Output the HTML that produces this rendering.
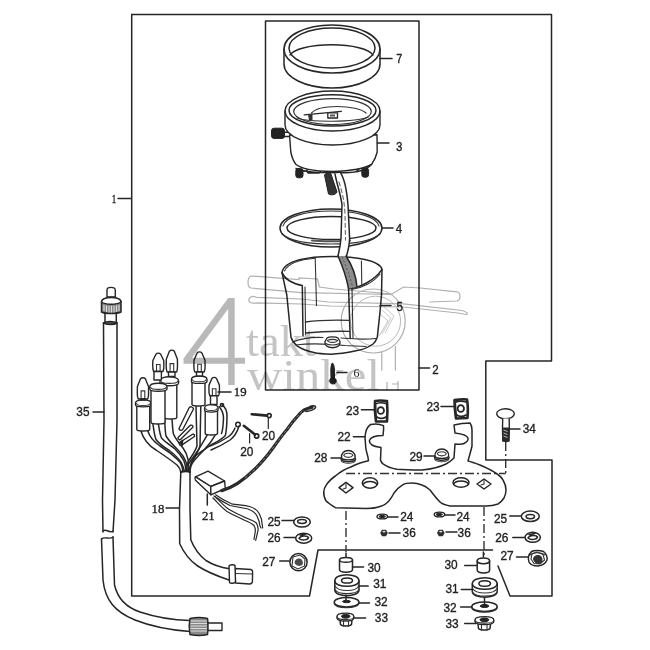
<!DOCTYPE html>
<html><head><meta charset="utf-8">
<style>
html,body{margin:0;padding:0;background:#fff;width:650px;height:650px;overflow:hidden}
svg{display:block}
.l{fill:none;stroke:#262626;stroke-width:1.5;stroke-linejoin:round;stroke-linecap:round}
.f{fill:#fff;stroke:#262626;stroke-width:1.4;stroke-linejoin:round}
.k{fill:#222;stroke:#222;stroke-width:1}
.th{fill:none;stroke:#333;stroke-width:1.1;stroke-linecap:round}
.dd{fill:none;stroke:#333;stroke-width:1.4;stroke-dasharray:9 3 2 3}
.w{fill:none;stroke:#b0b0b0;stroke-width:1.2}
text{font-family:"Liberation Sans",sans-serif;fill:#333}
.lb text{fill:#222;stroke:#222;stroke-width:0.35}
.s{font-family:"Liberation Serif",serif}
</style></head><body>
<svg width="650" height="650" viewBox="0 0 650 650" font-size="13">
<!-- outer boundary -->
<path class="l" d="M131.7,14.5 H551.5 V361 H485.8 V460 H552 V596 H510 L498,566"/>
<path class="l" d="M131.7,14.5 V596 H309.5 L318,550 H492.5"/>
<!-- inner box -->
<rect class="l" x="265.5" y="21" width="153.5" height="369"/>

<!-- ring 7 -->
<g id="p7">
<path class="l" d="M284,49 A48,24 0 0 1 380,49 V64 A48,24 0 0 1 284,64 Z"/>
<path class="l" d="M284,49 A48,24 0 0 0 380,49"/>
<ellipse class="l" cx="332" cy="48" rx="43" ry="20"/>
<path class="l" d="M290,55 A42,12 0 0 1 373,55"/>
</g>
<!-- meter 3 -->
<g id="p3">
<path class="f" d="M283,132.2 H291 V136.5 H283 Z"/>
<rect class="k" x="271.5" y="128.2" width="13" height="10.2" rx="2.5"/>
<path class="l" d="M296,168.5 C300,170.5 308,172 320,172.5 L345,172.8 C358,172.5 366,170.5 371.7,164.2 M306.8,170 L308,173 H319 L321,170.5 M357,170.5 L360,168"/>
<rect class="k" x="295.8" y="168.5" width="7.2" height="9.3" rx="2.5"/>
<rect class="k" x="361.8" y="168" width="6.8" height="9.2" rx="2.5"/>
<path class="f" d="M289.6,135 C290,142 290.5,148 290.8,152 C292,158 294,162 295.8,164.2 C300,168 310,171 332,171.5 C352,171 366,168 371.7,164.2 C374,161 376,157 377.2,152 L377,134.7 Z"/>
<path class="f" d="M285,111 A47.5,20 0 0 1 380,111 V125 A47.5,20 0 0 1 285,125 Z"/>
<path class="l" d="M285,111 A47.5,20 0 0 0 380,111"/>
<ellipse class="l" cx="332.5" cy="110.4" rx="43.5" ry="15.7"/>
<ellipse class="th" style="stroke-width:1.2" cx="332.5" cy="111.6" rx="38.8" ry="13"/>
<path class="th" d="M297,118 C310,122.5 355,122.5 368,117"/>
<path class="th" style="stroke-width:1.2" d="M311.5,113 C316,108 328,106.5 337,106.5 C350,106.5 362,109 366,113"/>
<path class="l" style="stroke-width:1.2" d="M304.2,114.9 L341.4,111.3"/>
<path style="fill:#333" d="M308,114.5 H312.5 V120 H309 Z"/>
<rect class="f" style="stroke-width:1.3" x="327.8" y="112.8" width="9.7" height="5.2"/>
<rect style="fill:#555" x="330" y="114.5" width="5" height="2"/>
<path class="k" style="fill:#333" d="M324.5,175 C326,172.5 330,172.5 331,174 L337,192 C336,195 330,195.5 328.5,194 Z"/>
</g>
<!-- cable from meter -->


<!-- gasket 4 -->
<g id="p4">
<ellipse class="l" cx="331" cy="228" rx="51" ry="19.1"/>
<path class="th" d="M283,226 C285,217 305,211 331,211 C357,211 377,217 379,226"/>
<ellipse class="l" cx="331.5" cy="228" rx="44.5" ry="11.5"/>
<path class="th" d="M282,234 C290,241 310,244 331,244 C352,244 372,241 380,234"/>
<path class="l" style="stroke-width:2.2;stroke:#555" d="M312,240.5 C320,241.5 342,241.5 350,240.5"/>
</g>
<!-- cable over gasket -->
<path style="fill:#fff;stroke:none" d="M335,174 C337,185 341,195 342,205 L341,238 C340.5,246 339,251 338,256 L346.5,256 C348,251 349.5,246 349.6,238 L348,205 C347.5,195 346,187 340.4,172.7 Z"/>
<path class="l" d="M335,174 C337,185 341,195 342,205 L341,238 C340.5,246 339,251 338,256"/>
<path class="l" d="M340.4,172.7 C344,178 346.5,187 348,205 L349.6,238 C349.5,246 348,251 346.5,256"/>
<path class="th" style="stroke-dasharray:4 3;stroke:#666" d="M339,182 C342,192 344.5,200 345,215 L345.5,240"/>
<!-- case 5 -->
<g id="p5">
<path class="l" d="M282,272.6 C284,260 310,256.5 332,256.5 C355,256.5 380,260 382,269.4 L381.5,295 L380,312 L377.3,337.3 C376,341 375,342.5 373,344 C368,347.5 362,350 356,350.8 C348,352.5 340,354 330.8,354.2 C323,354 318,353.5 313.8,352.5 C307,351 301,348.5 297,345.8 C294,343.5 292,340.5 291,337.3 L286.8,295 Z"/>
<path class="th" d="M284.5,271 C288,264 300,259.5 315,258.3"/>
<path class="l" d="M282,272.6 C285,280 295,284 302.3,285.5 L303,336"/>
<path class="th" d="M305,287 L305.6,335"/>
<path class="l" d="M348.6,288.8 C360,288 375,280 382,269.4"/>
<path class="th" d="M351.5,289.5 C362,288 374,282 380,274"/>
<path class="l" d="M348.6,288.8 L350.2,338.5"/>
<path class="th" d="M352,289.5 L353,338"/>
<path class="th" d="M315.2,258.3 L316.5,305.4"/>
<path class="th" style="stroke-width:1.3" d="M305.4,322 C320,320 335,320 349.4,320.4"/>
<path class="th" style="stroke-width:1.3" d="M305.4,333 C320,331.5 335,331 349.4,331.4"/>
<path class="th" style="stroke-width:1.2" d="M293,342 C300,339 312,337 323,337.5 M341,338 C348,338.5 360,340 376,338.5"/>
<path class="th" style="stroke-width:1.2" d="M295.5,345 C310,343 330,344 345,345.5 C352,346 358,346 366,346.5"/>
<path style="fill:#8c8c8c;stroke:none" d="M338,256 C342,265 346,275 348.6,288.8 L357,287 C356,275 352,265 346.5,256 Z"/>
<path style="fill:none;stroke:#444;stroke-width:0.8;stroke-dasharray:2 2" d="M342,257 C346,266 350,276 352.8,288"/>
<path class="l" d="M338,256 C342,265 346,275 348.6,288.8"/>
<path class="l" d="M346,256 C352,265 356,275 357,287"/>
<path class="th" d="M361.4,261 L361.8,285.5"/>
<path class="f" d="M327,338 C329,336.5 336,336.5 338,338 L340,341.5 C340.5,345 338.5,347.5 332.5,347.8 C326.5,347.5 324.5,345 325,341.5 Z"/>
<path class="th" d="M327.5,340.5 C330,339 335,339 337.5,340.5 C337,343 328,343 327.5,340.5 Z M325.5,343.5 C329,345.5 336,345.5 339.5,343.5"/>
</g>
<!-- screw 6 -->
<path class="k" d="M332.5,363 C334,364 334.5,368 334.5,372 L334.5,378 C336.5,379 337,382 335,383.5 C333,384.5 330,384 329.8,381.5 C329.8,379.5 330.5,378.5 331,378 L330.8,370 C331,366 331.5,363.5 332.5,363 Z"/>
<!-- leaders big box labels -->
<path class="l" d="M380,58.5 H392 M377.5,143 H389 M382,228 H393 M380,305.5 H391 M419,368 H429.5 M118,198.5 H131 M337,372.6 H347"/>

<!-- cable 35 -->
<g id="p35">
<path class="f" d="M107,297 V290 C107,286.5 115,286.5 115.3,290 V297 Z"/>
<path class="l" d="M101.5,302 C101.5,296 121,296 121,302 V312 C117,314 105,314 101.5,312 Z" style="fill:#8a8a8a"/>
<path class="f" d="M101.5,302 C101.5,296 121,296 121,302 C117,305 105,305 101.5,302 Z"/>
<path style="fill:none;stroke:#e8e8e8;stroke-width:0.9" d="M104,305 V311 M106.5,305.5 V312 M109,306 V312.5 M111.5,306 V312.5 M114,306 V312.5 M116.5,305.5 V312 M119,305 V311"/>
<path class="l" d="M105,312.5 V322.5 M116.3,312.5 V322.5"/>
<path class="l" d="M103.3,323 C106,321 114,321 117.1,323 C114,325 106,325 103.3,323 Z" style="fill:#555"/>
<path class="l" d="M103.5,323 L104,420 L102.5,500 L103,532"/>
<path class="l" d="M117,323 L117,420 L115,500 L113,532"/>
<path class="l" d="M103,531 C106,528 110,534 113,531"/>
<path class="l" d="M101.5,539 C104,536 110,540 113,537"/>
<path class="l" d="M101.5,539 L103,580 C105,600 115,612 135,620 C150,626 170,630 190,631.5"/>
<path class="l" d="M113,537 L114.5,585 C118,600 128,608 140,612 C155,617 170,620 190,620.5"/>
<path class="l" style="fill:#8a8a8a" d="M190,618.5 C195,617.5 203,617.5 207.5,618.5 C208.5,623 208.5,630 207.5,634.5 C203,635.5 195,635.5 190,634.5 C189,630 189,623 190,618.5 Z"/>
<path style="fill:none;stroke:#e6e6e6;stroke-width:0.9" d="M190.5,621 H207 M190.5,623.5 H207 M190.5,626 H207 M190.5,628.5 H207 M190.5,631 H207"/>
<path class="f" d="M208,623 H222 V630.5 H208 Z"/>
<path class="l" d="M93,412 H104"/>
</g>

<!-- harness 18 -->
<g id="p18">
<path class="l" d="M180.8,472 L179.5,509 L179.7,543.8 C184,553 190,561 197.7,566 C207,572 217,576 229,580"/>
<path class="l" d="M190,472 L190,509 L190.8,539.7 C194,548 199,555 206,560.5 C213,565 221,567.5 229.5,568.8"/>
<path class="f" d="M235,568.5 L251,569.5 C252.5,570 252.7,571 252.6,572 L252.4,582 C252,583.5 251,584 249.5,584 L235.5,583 Z"/>
<path class="th" d="M235.5,573.5 L252.5,574"/>
<path class="f" d="M229,566 C230,564.5 234,564.3 235,565.5 L235.5,582 C234.5,583.5 230.5,583.7 229.5,582.5 Z"/>
<path class="l" style="stroke-width:2.2" d="M180.8,472 C184,471 188,471 190,472"/>
<g style="stroke-width:1.2">
<path class="l" d="M140.8,430.8 C144,441 149,446 156,450 C165,456 172,461 177,465 C179,467 180.5,469 180.8,472"/>
<path class="l" d="M147.7,430.8 C150,438 154,442 160,446 C168,451 174,456 178,460 C181,463 182.5,467 182.8,471"/>
<path class="l" d="M153,424.6 C154,431 154.5,436 156,439.5 C159,444 164,447 170,451 C175,455 179,459 181.5,463 C183,466 184,469 184.2,471"/>
<path class="l" d="M158.5,424.6 C159.5,431 160,435 161.5,438 C165,442 170,445 175,449 C179,453 182,457 184,461 C185.5,465 185.8,468 185.8,471"/>
<path class="l" d="M164.6,418.5 C165,425 165,431 166,436 C169,441 174,446 178.5,450.5 C182,454 184.5,458 186,462 C187,466 187.2,469 187.2,471"/>
<path class="l" d="M172,418.5 C172.5,425 172.5,430 173.5,434 C176,440 180,444 183,448 C186,452 187.5,456 188.2,460 L188.5,471"/>
<path class="l" d="M196,406 L197,446 C195,452 191,457 188.5,461 C187,464 186.5,467 186.5,471"/>
<path class="l" d="M200.8,406 L200,446 C198,452 194,458 191.5,462 C190,465 189.5,468 189.5,471"/>
<path class="l" d="M207,435.4 C204,441 201,445 199,449 C195,455 191,460 188.5,464"/>
<path class="l" d="M215,435.4 C212,441 208,446 204,450 C198,456 193,461 190.5,466"/>
<path class="l" d="M222,404.6 C225,407 227,411 227,415.4 C227,422 226.5,430 225.4,435.4 C221,440 216,442 211.5,444.6 C205,449 200,452 196,455.4 C193,459 191,464 190,471"/>
<path class="l" d="M219,406.5 C222,410 223.5,414 223.5,418 C223.3,424 222.8,430 221.5,433.5"/>
<circle class="l" cx="222" cy="405" r="1.6"/>
<path class="l" d="M210,446 C216,444 222,441 228,437 C231,435 233,433 235,428 M211,450 C218,447 224,444 230,440 C234,437 237,433 239,426"/>
<circle class="l" cx="238" cy="424.5" r="2.3"/>
<path class="f" d="M189,408 C190,406 193,406.5 193.5,409 L183,429 C182,431 179,430.5 179,428.5 Z"/>
<path class="f" d="M189.5,426 C190.5,424.5 193,425 193,427 L181,439 C180,440.5 177.5,439.5 178,437.5 Z"/>
<path class="f" d="M191.5,435 C192.5,433.5 195,434 194.5,436.5 L182,444.8 C180.5,446 178.5,444.5 179.5,442.5 Z"/>
<path class="k" d="M180,442 L183,440 L182,446 Z"/>
</g>
</g>
<!-- bulbs 19 -->
<g id="p19">
<path class="f" d="M136.8,405.5 V429.5 C136.8,431.5 149.7,431.5 149.7,429.5 V405.5 Z"/><path class="f" d="M135.5,403.1 C135.5,398.8 151,398.8 151,403.1 L151,405.1 C151,407.5 135.5,407.5 135.5,405.1 Z"/><path class="th" d="M136.5,403.6 C137.5,406.1 149,406.1 150,403.6"/><path class="f" d="M138.2,399 C136.8,395.8 137.4,392.6 137.4,386.6 L140.5,378.8 C141.8,377.3 144.1,377.3 145.4,378.8 L148.5,386.6 C148.5,392.6 149.1,395.8 147.7,399 Z"/><path class="th" d="M141.1,399 V390.9 H144.8 V399"/><path class="f" d="M140.5,399 H145.5 V400 H140.5 Z"/>
<path class="f" d="M163.8,384.6 V417.5 C163.8,419.5 176.8,419.5 176.8,417.5 V384.6 Z"/><path class="f" d="M160,381.0 C160,375.4 178.6,375.4 178.6,381.0 L178.6,383.0 C178.6,386.6 160,386.6 160,383.0 Z"/><path class="th" d="M161,381.5 C162,384.0 176.6,384.0 177.6,381.5"/><path class="f" d="M167.1,372 C165.7,368.7 166.3,365.4 166.3,359.2 L169.4,351.2 C170.7,349.7 173.0,349.7 174.3,351.2 L177.4,359.2 C177.4,365.4 178.0,368.7 176.6,372 Z"/><path class="th" d="M170.1,372 V363.6 H173.7 V372"/><path class="f" d="M168.5,372 H175 V376.5 H168.5 Z"/>
<path class="f" d="M151,390 V422.5 C151,424.5 165,424.5 165,422.5 V390 Z"/><path class="f" d="M149.7,387.0 C149.7,382 167,382 167,387.0 L167,389.0 C167,392 149.7,392 149.7,389.0 Z"/><path class="th" d="M150.7,387.5 C151.7,390.0 165,390.0 166,387.5"/><path class="f" d="M153.6,371.5 C152.2,368.7 152.8,365.9 152.8,360.8 L155.9,354.2 C157.2,352.7 159.4,352.7 160.7,354.2 L163.8,360.8 C163.8,365.9 164.4,368.7 163.0,371.5 Z"/><path class="th" d="M156.5,371.5 V364.5 H160.1 V371.5"/><path class="f" d="M154,371.5 H161.4 V380 H154 Z"/>
<path class="f" d="M192,382 V404.5 C192,406.5 205,406.5 205,404.5 V382 Z"/><path class="f" d="M191.5,379.4 C191.5,374.8 207,374.8 207,379.4 L207,381.4 C207,384 191.5,384 191.5,381.4 Z"/><path class="th" d="M192.5,379.9 C193.5,382.4 205,382.4 206,379.9"/><path class="f" d="M194.8,372 C193.4,369.0 194.0,365.9 194.0,360.3 L197.1,353.0 C198.4,351.5 200.6,351.5 201.9,353.0 L205.0,360.3 C205.0,365.9 205.6,369.0 204.2,372 Z"/><path class="th" d="M197.7,372 V364.3 H201.3 V372"/><path class="f" d="M196.5,372 H202.5 V376 H196.5 Z"/>
<path class="f" d="M205.2,410.8 V433.5 C205.2,435.5 217.5,435.5 217.5,433.5 V410.8 Z"/><path class="f" d="M204.6,408.1 C204.6,403.4 218,403.4 218,408.1 L218,410.1 C218,412.8 204.6,412.8 204.6,410.1 Z"/><path class="th" d="M205.6,408.6 C206.6,411.1 216,411.1 217,408.6"/><path class="f" d="M209.8,395.8 C208.4,393.0 209.0,390.2 209.0,385.1 L211.9,378.5 C213.2,377.0 215.2,377.0 216.5,378.5 L219.4,385.1 C219.4,390.2 220.0,393.0 218.6,395.8 Z"/><path class="th" d="M212.4,395.8 V388.8 H216.0 V395.8"/><path class="f" d="M210.5,395.8 H217 V404.5 H210.5 Z"/>
</g>
<path class="l" d="M218,392 H231"/>
<!-- screws 20 -->
<path class="l" style="stroke-width:2.6" d="M251.7,414.2 L267,415.6 M243.8,425.8 L255,434.5"/>
<circle class="l" style="stroke-width:1.6" cx="269.2" cy="415.6" r="2"/>
<circle class="l" style="stroke-width:1.8" cx="256.6" cy="436" r="2.1"/>
<path class="l" style="stroke-width:1.2" d="M268.3,418 V428.5 M249.6,433.6 V443"/>
<!-- connector 21 + wires -->
<path class="f" d="M195.5,476.8 L208,471.2 L224.6,481 L210.8,486.5 Z"/>
<path class="f" d="M195.5,476.8 C194.5,478 195,479.5 195.5,480.2 L210.8,494.8 L210.8,486.5 Z"/>
<path class="f" d="M210.8,486.5 L224.6,481 L225.3,488.5 L210.8,494.8 Z"/>
<path class="l" style="stroke-width:3.2;stroke:#2a2a2a" d="M221.8,490.6 C232,488 245,479 255,469 C262,462 268,455 272.2,449 C278,441 283,434 287,429.5 C291,424 294,420 296.8,417.2 C299,414 301,412 304,410 C307,408.5 310,407.5 312,407.3"/>
<path style="fill:none;stroke:#999;stroke-width:0.8;stroke-dasharray:3 2" d="M245,478 C250,474 252,472 255,469 C262,462 268,455 272.2,449 C278,441 283,434 287,429.5 C291,424 294,420 296.8,417.2 C299,414 301,412 304,410"/>
<path class="l" style="stroke-width:1.6" d="M310,406.5 C312,405.5 316,405 315.5,407.5 C314.5,409.5 310,411 306,411.5"/>
<path class="l" style="stroke-width:1.2" d="M215.6,494.8 C220,498 225,501 231.5,503.8 C238,505 244,505 249.5,506.5 C254,508 257.5,510 259.2,513.4 C261,517 262,520 262,523 L262.7,528"/>
<path class="l" style="stroke-width:1.2" d="M214,496 C219,499.5 224,502.5 230,505.5 C236,507 242,507.5 248,509 C252,510.5 255.5,513 257,516 C258.5,519 259.5,522 260,526 L261,528"/>
<path class="l" style="stroke-width:1.2" d="M215,496.8 C220,501 224,506 228.8,509.3 C234,512.5 240,515 245.4,517.6 C250,519.5 254,521 256.4,523 C258,526 258.5,529 257.8,531.4 L255.7,540.4"/>
<path class="l" style="stroke-width:1.2" d="M213,498 C218,503 222,508 227,511.5 C233,515 239,517.5 244,520 C249,522 252,523.5 254,525.5 C255.5,528 255.5,531 255,533 L254,539.5"/>
<path class="l" d="M207.3,494 V505"/>
<path class="l" d="M166,508 H178.8"/>

<!-- bracket plate + 22 -->
<g id="p22">
<path class="l" d="M368.5,460.8 C368,455 366,452 365.7,447 L365,437 C365.5,431 366.5,427 370.6,424.5 C375,423.5 380,424 383.5,425.7 C384,429 383.5,432 383,435.5 C378,435.5 371,436.5 369.4,440.5 C369,445 374,446.6 381,447.5 L380.5,460 C381,462 382,463 383,463.8 C386,466 390,468 397,469.2 C405,470 415,470 422,470 C432,469 440,467 446,464 C450,462 452,460 454,458 L455,444 C460,444.5 463,444 464,443.5 C467,442 468.5,440 468,438 C467,435.5 463,434 455,433 L454,425 C458,424 464,423 470,423 C471.5,425 472,428 472,430 L472,446 C471,451 469.5,455 468,461 C472,462 476,463.5 480,465 C487,468 491,470 494,472 C499,475 502,478 503,480 C505.5,484 506,487 506,490 C506,494 505,496 504,498 C502,501 500,503 498,504 C494,505.5 490,506 486,506 L450,506 C445,505 442,504 440,502 C436,498 433,494 430,490 C427,487 425,486 422,485 C418,483.5 415,483 412.3,483 C406,483 404,484 403,484.6 C399,487 396,490 394,493 C392,497 390.5,499 389,500.8 C386,504 384,505.5 381.5,506 C378,507.5 372,508.5 366,508.5 L335.4,507.7 C331,505 328,503 326,500.8 C324,497 323.5,494 323.8,491.5 C324,489 325,487 326,485.4 C329,481 332,478 335.4,476 C340,472 345,469 350.8,467 C357,464 362,462 368.5,460.8 Z"/>
<path class="dd" d="M346,473.5 H505.7 M505.7,442 V473.5"/>
<path class="dd" d="M346,511 V552 M484,507 V556"/>
<ellipse class="l" cx="370" cy="483" rx="7.7" ry="5.2"/>
<path class="l" d="M363,484.5 C366,480.5 374,480.5 377,484.5"/>
<path class="l" d="M346,482.3 L353,487.7 L346,493 L339,487.7 Z"/>
<path class="th" d="M346,484 V488 L343,489"/>
<ellipse class="l" cx="461" cy="482.5" rx="8" ry="4.7"/>
<path class="l" d="M453.5,484 C456,480 466,480 468.5,484"/>
<path class="l" d="M484,479 L491,484 L484,489 L477,484 Z"/>
<path class="th" d="M484,480.5 V484 L481,485"/>
</g>
<!-- nuts 23 -->
<path class="l" style="stroke-width:2.6" d="M375,401 C378,400.5 383,400.5 387,401 C387.5,407 387.5,415 387,421.5 L376,421.5 C375,415 374.5,408 375,401 Z"/>
<ellipse class="l" style="stroke-width:1.8" cx="380.8" cy="410.5" rx="3.2" ry="3.4"/>
<path class="l" style="stroke-width:1.8" d="M375.5,404 C378,402.5 383,402.5 386,403.5 M376,416 C378,419 383,419 386,417 M375.5,406 L375.8,418"/>
<path class="l" style="stroke-width:2.6" d="M454.5,400 C458,399.5 463,399 467,399.5 C468,405 468,412 467.5,418 L456,418.5 C455,412 454.5,406 454.5,400 Z"/>
<ellipse class="l" style="stroke-width:1.8" cx="460.8" cy="408.5" rx="3.2" ry="3.4"/>
<path class="l" style="stroke-width:1.8" d="M455,402.5 C458,401 463,401 466,402 M456,414 C458,417 463,417 466,415 M455.3,404 L455.8,416"/>
<!-- nuts 28 29 -->
<path class="l" d="M341.0,459.0 C340.8,462.5 355.8,462.5 355.6,459.0"/>
<path class="th" d="M341.3,461.0 C343.3,464.0 353.3,464.0 355.3,461.0"/>
<path class="f" d="M341.5,458.0 C340.8,453.5 344.3,450.5 348.3,450.5 C352.3,450.5 355.8,453.5 355.1,458.0 C353.3,460.5 343.3,460.5 341.5,458.0 Z"/>
<path class="th" d="M343.8,455.5 C344.3,452.5 352.3,452.5 352.8,455.5 C351.3,458.0 345.3,458.0 343.8,455.5 Z"/>
<path class="l" d="M434.5,457.5 C434.3,461 449.3,461 449.1,457.5"/>
<path class="th" d="M434.8,459.5 C436.8,462.5 446.8,462.5 448.8,459.5"/>
<path class="f" d="M435.0,456.5 C434.3,452 437.8,449 441.8,449 C445.8,449 449.3,452 448.6,456.5 C446.8,459 436.8,459 435.0,456.5 Z"/>
<path class="th" d="M437.3,454 C437.8,451 445.8,451 446.3,454 C444.8,456.5 438.8,456.5 437.3,454 Z"/>
<!-- bolt 34 -->
<ellipse class="f" cx="505.5" cy="413.8" rx="8.8" ry="5"/>
<path class="f" d="M502.7,418.5 L502.5,428 L502.8,441 H509 L509.3,428 L509.2,418.5"/>
<path style="fill:#2a2a2a" d="M502,427.5 H509.5 L509.2,441 C508,442.5 504,442.5 502.7,441 Z"/>
<path style="fill:none;stroke:#ddd;stroke-width:0.8" d="M503.5,430 L507.5,431.5 M503.5,433 L507.5,434.5 M503.5,436 L507.5,437.5"/>
<!-- washers 24, nuts 36 -->
<ellipse class="f" cx="382.3" cy="516.5" rx="5.3" ry="2.4"/>
<path class="k" d="M379,516.5 C380,515 384,515 385.5,516.5 C384,518 380,518 379,516.5 Z"/>
<ellipse class="f" cx="439.5" cy="514.5" rx="5.3" ry="2.4"/>
<path class="k" d="M436,514.5 C437,513 441,513 442.5,514.5 C441,516 437,516 436,514.5 Z"/>
<path style="fill:#2e2e2e" d="M380.2,533 L382,529.8 H386 L387.8,533 L386,536.3 H382 Z"/>
<ellipse style="fill:#ddd" cx="384" cy="531.6" rx="1.6" ry="0.9"/>
<path style="fill:#2e2e2e" d="M437,533 L438.8,529.8 H442.8 L444.6,533 L442.8,536.3 H438.8 Z"/>
<ellipse style="fill:#ddd" cx="440.8" cy="531.6" rx="1.6" ry="0.9"/>
<!-- 25 26 27 left -->
<ellipse class="l" cx="302" cy="522" rx="8.3" ry="5.1"/>
<ellipse class="l" cx="302" cy="521.5" rx="4.3" ry="1.9"/>
<ellipse class="l" cx="303.7" cy="538.2" rx="8" ry="5"/>
<path class="l" d="M299,538.5 C300,535.5 307,535 308.5,537.5 C308,540 302,541 299,538.5 Z M300,535 L306,534"/>
<circle class="l" cx="298.5" cy="562.2" r="8.6"/>
<path class="th" d="M293,557 L300,555 L305,559 L304.5,566 L298,569 L292,566 Z"/>
<path style="fill:#4a4a4a" d="M294.5,563 C294.5,560 296.5,558.5 299,558.5 C302,558.5 303,561 302.8,564 C301.5,566.5 296.5,566.8 294.5,563 Z"/>
<!-- 25 26 27 right -->
<ellipse class="l" cx="530.3" cy="516.3" rx="9" ry="5.2"/>
<ellipse class="l" cx="530.3" cy="516.6" rx="4.2" ry="2.1"/>
<ellipse class="l" cx="532.7" cy="537.3" rx="7.7" ry="5"/>
<path class="l" d="M528,538 C529,535 536,534.5 537.5,537 C537,539.5 531,540.5 528,538 Z M529,534.5 L535,533.5"/>
<path class="l" d="M531.5,551.5 C534,550 540,550 543.5,551.5 C546.5,554 547.5,557 547,560 C545.5,563.5 543,565.5 538,566 C534,566 530.5,565 529,562 C528,559 528.5,554.5 531.5,551.5 Z"/>
<path class="th" d="M532,554 L537,552 L543,554.5 L544.5,560 L540,564 L534,563.5 L531,559 Z"/>
<path style="fill:#333" d="M533,559.5 C533,556 536,554.5 539,555 C542.5,556 543,559.5 542,562.5 C539.5,565 535,564.5 533,559.5 Z"/>
<path class="th" d="M530,555 C533,552 541,552 545,555"/>
<!-- 30 31 32 33 left -->
<path class="l" d="M346,553 V557"/>
<path class="l" d="M339.5,560 C339.5,556.5 352.5,556.5 352.5,560 L352.5,569.5 C352.5,573 339.5,573 339.5,569.5 Z"/>
<path class="l" d="M339.5,560 C340,563 352,563 352.5,560"/>
<path class="l" d="M334.8,581 C334.8,572.5 359,572.5 359,581 L359,590 C359,597.5 334.8,597.5 334.8,590 Z"/>
<path class="l" d="M334.8,581 C335,588 358.8,588 359,581"/>
<path class="th" d="M335,586 C338,592 356,592 359,586 M335,589.5 C338,595 356,595 359,589.5"/>
<ellipse class="l" cx="347" cy="580.5" rx="5.5" ry="2.6"/>
<path class="l" d="M346,595 V601"/>
<path class="l" d="M334.2,602.3 C334.2,596 359,596 359,602.3 C359,608.5 334.2,608.5 334.2,602.3 Z"/>
<path class="th" d="M334.2,603.5 C336,609 357,609 359,603.5"/>
<path class="k" d="M342.5,601.5 C343,600 350,600 350.5,601.5 C350,603 343,603 342.5,601.5 Z"/>
<path class="l" d="M340,620 L340.5,624.5 C342,626.5 350,626.5 351.5,624.5 L352,620"/>
<path class="th" d="M343.5,621 V626 M348.5,621 V626"/>
<path class="f" d="M337,616.5 C337,612 353.8,612 353.8,616.5 L353.8,618 C353.8,622 337,622 337,618 Z"/>
<path class="th" d="M337,617 C338,620.5 353,620.5 353.8,617"/>
<path class="k" d="M341.5,616.3 C341.5,613.8 350,613.8 350,616.3 C350,618.8 341.5,618.8 341.5,616.3 Z"/>
<!-- 30 31 32 33 right -->
<path class="l" d="M483.4,552 V557"/>
<path class="l" d="M477.2,561 C477.2,557 489.6,557 489.6,561 L489.6,570 C489.6,574 477.2,574 477.2,570 Z"/>
<path class="l" d="M477.2,561 C478,564.5 489,564.5 489.6,561"/>
<path class="l" d="M472.3,584 C472.3,575.5 497.2,575.5 497.2,584 L497.2,591.5 C497.2,599 472.3,599 472.3,591.5 Z"/>
<path class="l" d="M472.3,584 C473,591 496.5,591 497.2,584"/>
<path class="th" d="M472.5,588.5 C476,594.5 494,594.5 497,588.5 M472.5,592 C476,597.5 494,597.5 497,592"/>
<ellipse class="l" cx="484.7" cy="583.5" rx="5.8" ry="2.8"/>
<path class="l" d="M484.5,598 V605"/>
<path class="l" d="M471.7,606.8 C471.7,600.5 497.2,600.5 497.2,606.8 C497.2,613 471.7,613 471.7,606.8 Z"/>
<path class="th" d="M471.7,608 C474,613.5 495,613.5 497.2,608"/>
<path class="k" d="M480,606 C481,604 488,604 489,606 C488,608 481,608 480,606 Z"/>
<path class="l" d="M478,624 L478.5,628.5 C480,630.5 488.5,630.5 490,628.5 L490.5,624"/>
<path class="th" d="M481.5,625 V630 M487,625 V630"/>
<path class="f" d="M475,620 C475,615.5 493.8,615.5 493.8,620 L493.8,621.5 C493.8,625.5 475,625.5 475,621.5 Z"/>
<path class="th" d="M475,620.5 C476,624 493,624 493.8,620.5"/>
<path class="k" d="M480,619.8 C480,617.3 488.8,617.3 488.8,619.8 C488.8,622.3 480,622.3 480,619.8 Z"/>
<!-- leaders -->
<path class="l" d="M361.4,409.7 H374 M353.4,436.8 H365 M331,458 H341 M424,456 H435 M441,406.5 H454 M509.5,429 H520 M388,517 H398 M445,515 H455 M389,533 H400 M446,532 H457 M282,520.4 H294 M284,537.6 H295 M279.7,561 H289 M352.5,567 H363.6 M358.4,586 H368.2 M359,603 H369.5 M353.8,618 H365.6 M509.7,516 H521.4 M512.8,537.5 H525 M516.5,557 H528 M464.7,565.5 H477 M461.3,589.5 H472.3 M460.6,607 H471.7 M464.7,623.6 H475.8"/>
<g class="lb">
<text x="399.2" y="63.3" text-anchor="middle" font-size="12.8" textLength="6.0" lengthAdjust="spacingAndGlyphs">7</text>
<text x="399.2" y="151.3" text-anchor="middle" font-size="12.8" textLength="6.4" lengthAdjust="spacingAndGlyphs">3</text>
<text x="398.9" y="233.1" text-anchor="middle" font-size="12.8" textLength="6.4" lengthAdjust="spacingAndGlyphs">4</text>
<text x="399.8" y="310.6" text-anchor="middle" font-size="12.8" textLength="6.4" lengthAdjust="spacingAndGlyphs">5</text>
<text x="435.5" y="374.3" text-anchor="middle" font-size="12.8" textLength="6.4" lengthAdjust="spacingAndGlyphs">2</text>
<text x="114.0" y="202.9" text-anchor="middle" font-size="13.0" textLength="4.5" lengthAdjust="spacingAndGlyphs" class="s">1</text>
<text x="356.4" y="377.1" text-anchor="middle" font-size="12.0" textLength="6.0" lengthAdjust="spacingAndGlyphs" class="s" style="stroke-width:0">6</text>
<text x="82.9" y="415.9" text-anchor="middle" font-size="12.8" textLength="13.2" lengthAdjust="spacingAndGlyphs">35</text>
<text x="240.2" y="396.1" text-anchor="middle" font-size="13.0" textLength="12.8" lengthAdjust="spacingAndGlyphs" class="s">19</text>
<text x="268.5" y="439.9" text-anchor="middle" font-size="12.8" textLength="13.2" lengthAdjust="spacingAndGlyphs">20</text>
<text x="246.8" y="456.1" text-anchor="middle" font-size="12.8" textLength="13.2" lengthAdjust="spacingAndGlyphs">20</text>
<text x="158.0" y="513.2" text-anchor="middle" font-size="13.0" textLength="12.8" lengthAdjust="spacingAndGlyphs" class="s">18</text>
<text x="208.3" y="520.0" text-anchor="middle" font-size="13.0" textLength="12.8" lengthAdjust="spacingAndGlyphs" class="s">21</text>
<text x="352.6" y="414.9" text-anchor="middle" font-size="12.8" textLength="13.2" lengthAdjust="spacingAndGlyphs">23</text>
<text x="344.0" y="440.8" text-anchor="middle" font-size="12.8" textLength="13.2" lengthAdjust="spacingAndGlyphs">22</text>
<text x="320.8" y="462.3" text-anchor="middle" font-size="12.8" textLength="13.2" lengthAdjust="spacingAndGlyphs">28</text>
<text x="416.0" y="461.3" text-anchor="middle" font-size="12.8" textLength="13.2" lengthAdjust="spacingAndGlyphs">29</text>
<text x="433.0" y="411.3" text-anchor="middle" font-size="12.8" textLength="13.2" lengthAdjust="spacingAndGlyphs">23</text>
<text x="529.3" y="433.3" text-anchor="middle" font-size="12.8" textLength="13.2" lengthAdjust="spacingAndGlyphs">34</text>
<text x="406.8" y="520.6" text-anchor="middle" font-size="12.8" textLength="13.2" lengthAdjust="spacingAndGlyphs">24</text>
<text x="463.0" y="520.6" text-anchor="middle" font-size="12.8" textLength="13.2" lengthAdjust="spacingAndGlyphs">24</text>
<text x="409.2" y="536.7" text-anchor="middle" font-size="12.8" textLength="13.2" lengthAdjust="spacingAndGlyphs">36</text>
<text x="464.2" y="536.7" text-anchor="middle" font-size="12.8" textLength="13.2" lengthAdjust="spacingAndGlyphs">36</text>
<text x="274.0" y="526.3" text-anchor="middle" font-size="12.8" textLength="13.2" lengthAdjust="spacingAndGlyphs">25</text>
<text x="274.0" y="541.6" text-anchor="middle" font-size="12.8" textLength="13.2" lengthAdjust="spacingAndGlyphs">26</text>
<text x="268.8" y="565.6" text-anchor="middle" font-size="12.8" textLength="13.2" lengthAdjust="spacingAndGlyphs">27</text>
<text x="500.6" y="523.1" text-anchor="middle" font-size="12.8" textLength="13.2" lengthAdjust="spacingAndGlyphs">25</text>
<text x="501.8" y="541.5" text-anchor="middle" font-size="12.8" textLength="13.2" lengthAdjust="spacingAndGlyphs">26</text>
<text x="507.0" y="560.0" text-anchor="middle" font-size="12.8" textLength="13.2" lengthAdjust="spacingAndGlyphs">27</text>
<text x="374.1" y="571.9" text-anchor="middle" font-size="12.8" textLength="13.2" lengthAdjust="spacingAndGlyphs">30</text>
<text x="379.8" y="588.3" text-anchor="middle" font-size="12.8" textLength="13.2" lengthAdjust="spacingAndGlyphs">31</text>
<text x="381.1" y="605.9" text-anchor="middle" font-size="12.8" textLength="13.2" lengthAdjust="spacingAndGlyphs">32</text>
<text x="381.4" y="621.6" text-anchor="middle" font-size="12.8" textLength="13.2" lengthAdjust="spacingAndGlyphs">33</text>
<text x="451.1" y="568.8" text-anchor="middle" font-size="12.8" textLength="13.2" lengthAdjust="spacingAndGlyphs">30</text>
<text x="452.1" y="593.0" text-anchor="middle" font-size="12.8" textLength="13.2" lengthAdjust="spacingAndGlyphs">31</text>
<text x="450.0" y="611.7" text-anchor="middle" font-size="12.8" textLength="13.2" lengthAdjust="spacingAndGlyphs">32</text>
<text x="452.1" y="628.3" text-anchor="middle" font-size="12.8" textLength="13.2" lengthAdjust="spacingAndGlyphs">33</text>
</g>
<!-- watermark -->
<g id="wm" style="mix-blend-mode:multiply">
<path class="w" d="M251,276 L299,279.5 L299,278 L317.5,279 L319.4,287 L334,289 L392,294 L403.5,287 L420,288 L457,291.8 C461,293 461,300 457,301 L429.4,302 M251,276 C247,278 247,287 251,288 L301,292.7 L392.5,294.5"/>
<path class="w" d="M256.6,297.3 L301,299 L328.6,302 L403.5,303.8 L462,310.5 C467,312 469,314 466,314.5 L458,313 L403,307 L330,306 L301,304 L256.6,302.8 C251,304 248,302 249,299 C250,296 253,296 256.6,297.3 Z"/>
<circle class="w" cx="373.2" cy="321" r="32"/>
<circle class="w" style="stroke-width:0.9" cx="375.6" cy="321.2" r="25"/>
<path class="w" style="stroke-width:0.7" d="M384,307 L394,316 L385,333 M382,310 L391,318 L382,334 M380,314 L388,321 L379,336"/>
<path class="w" d="M381.8,352 V370.6 M395.4,346 V370.6 M387,382 V390 M398,381 V390 M392,384 H398"/>
<path style="fill:#b9b9b9" d="M228.2,298 H234.7 V357.7 H245 V363.8 H234.7 V385 H228.2 V363.8 H183.5 V358.5 Z M228.2,308.8 L192,357.7 H228.2 Z" fill-rule="evenodd"/>
<text x="246" y="355.5" font-size="44" textLength="70" lengthAdjust="spacingAndGlyphs" class="s" style="fill:#c4c4c4">takt</text>
<text x="247" y="389.5" font-size="44" textLength="133" lengthAdjust="spacingAndGlyphs" class="s" style="fill:#c4c4c4">winkel</text>
</g>
</svg>
</body></html>
